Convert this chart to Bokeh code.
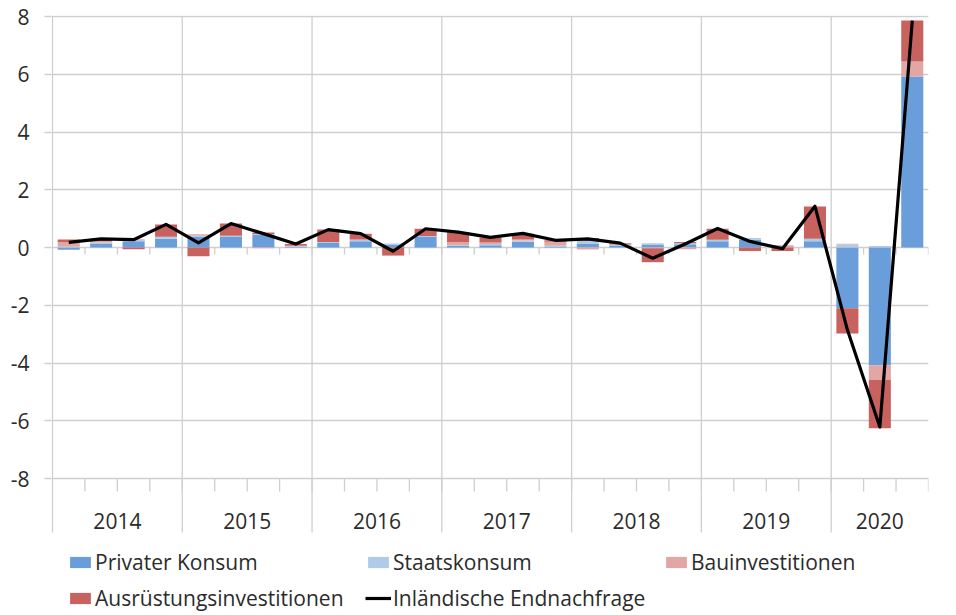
import numpy as np
from bokeh.plotting import figure
from bokeh.models import ColumnDataSource, FixedTicker, Legend, LegendItem, Range1d, Grid
from bokeh.core.properties import value
from bokeh.embed import file_html
from bokeh.resources import INLINE

# ---- data (quarterly contributions, percentage points) ----
years = ["2014", "2015", "2016", "2017", "2018", "2019", "2020"]
quarters_per_year = [4, 4, 4, 4, 4, 4, 3]

privater_konsum = [-0.08, 0.12, 0.22, 0.30, 0.38, 0.36, 0.45, 0.02,
                   0.16, 0.22, 0.10, 0.36, 0.05, 0.08, 0.20, 0.02,
                   0.14, 0.05, 0.10, 0.11, 0.22, 0.27, 0.00, 0.22,
                   -2.10, -4.08, 5.92]
staatskonsum = [0.03, 0.05, 0.04, 0.07, 0.03, 0.05, 0.02, 0.02,
                0.03, 0.04, 0.04, 0.04, 0.03, 0.04, 0.04, 0.04,
                0.09, 0.04, 0.05, 0.05, 0.05, 0.06, 0.02, 0.08,
                0.10, 0.05, 0.00]
bauinvestitionen = [0.15, 0.05, 0.03, 0.00, 0.05, 0.00, -0.03, 0.02,
                    0.00, 0.02, 0.00, 0.00, 0.10, 0.05, 0.04, 0.14,
                    -0.07, 0.02, -0.03, -0.06, 0.00, 0.00, 0.06, 0.00,
                    0.03, -0.50, 0.52]
ausruestungsinvestitionen = [0.10, 0.08, -0.06, 0.43, -0.30, 0.42, 0.05, 0.06,
                             0.43, 0.20, -0.28, 0.25, 0.35, 0.18, 0.20, 0.05,
                             0.10, 0.04, -0.48, 0.03, 0.38, -0.12, -0.12, 1.12,
                             -0.88, -1.68, 1.42]
endnachfrage = [0.18, 0.30, 0.27, 0.80, 0.16, 0.83, 0.48, 0.12,
                0.62, 0.48, -0.13, 0.65, 0.53, 0.35, 0.49, 0.25,
                0.30, 0.15, -0.37, 0.12, 0.66, 0.21, -0.04, 1.43,
                -2.85, -6.22, 7.86]

series_names = ["Privater Konsum", "Staatskonsum", "Bauinvestitionen", "Ausrüstungsinvestitionen"]
series_values = [privater_konsum, staatskonsum, bauinvestitionen, ausruestungsinvestitionen]
series_colors = ["#6A9EDA", "#AFCBE8", "#E2A6A4", "#C8625F"]
line_name = "Inländische Endnachfrage"
y_ticks = [-8, -6, -4, -2, 0, 2, 4, 6, 8]

# ---- derived positions ----
n = len(endnachfrage)
xc = np.arange(n) + 0.5
year_starts = np.concatenate([[0], np.cumsum(quarters_per_year)[:-1]])
year_centers = year_starts + np.array(quarters_per_year) / 2.0
quarter_bounds = np.arange(1, n + 1)

PX_PER_UNIT = 28.875
PX_PER_Q = 32.444
FRAME_TOP = 15
FRAME_BOTTOM = 614
y_end = 8 + 1 / PX_PER_UNIT
y_start = 8 - (FRAME_BOTTOM - 16) / PX_PER_UNIT
x_start = -1 / PX_PER_Q
GRID = "#CFCFCF"
FONT = "Open Sans"
TXT = "#2B2B2B"
FS = "21px"

p = figure(width=948, height=FRAME_BOTTOM, frame_width=877, frame_height=FRAME_BOTTOM - FRAME_TOP,
           x_range=Range1d(x_start, n), y_range=Range1d(y_start, y_end),
           output_backend="svg", toolbar_location=None,
           x_axis_location=None, min_border_left=51, min_border_right=20,
           min_border_top=FRAME_TOP, min_border_bottom=0)
p.outline_line_color = None
p.background_fill_color = "white"
p.xgrid.grid_line_color = None
p.ygrid.grid_line_color = None

# horizontal gridlines
p.add_layout(Grid(dimension=1, ticker=FixedTicker(ticks=y_ticks),
                  grid_line_color=GRID, grid_line_width=1.3))

# y axis
ax = p.yaxis[0]
ax.ticker = FixedTicker(ticks=y_ticks)
ax.axis_line_color = None
ax.major_tick_line_color = GRID
ax.major_tick_line_width = 1.3
ax.major_tick_out = 7
ax.major_tick_in = 0
ax.minor_tick_line_color = None
ax.major_label_standoff = 15
ax.major_label_text_font = FONT
ax.major_label_text_font_size = FS
ax.major_label_text_color = TXT
ax.major_label_overrides = {t: str(t) for t in y_ticks}

# year separators (from top to bottom of category label area)
sep_bottom = -8 - 54 / PX_PER_UNIT
p.segment(x0=year_starts, y0=[8] * len(year_starts), x1=year_starts,
          y1=[sep_bottom] * len(year_starts), line_color=GRID, line_width=1.3)
# quarter ticks below the category axis (at 0) and at the bottom (-8)
p.segment(x0=quarter_bounds, y0=0, x1=quarter_bounds, y1=-7 / PX_PER_UNIT,
          line_color=GRID, line_width=1.3)
p.segment(x0=quarter_bounds, y0=-8, x1=quarter_bounds, y1=-8 - 13 / PX_PER_UNIT,
          line_color=GRID, line_width=1.3)

# year labels
p.text(x=year_centers, y=[-8 - 42 / PX_PER_UNIT] * len(years), text=years,
       text_align="center", text_baseline="middle",
       text_font=value(FONT), text_font_size=FS, text_color=TXT)

# stacked bars (positives up, negatives down)
pos = np.zeros(n)
neg = np.zeros(n)
items = []
for name, vals, col in zip(series_names, series_values, series_colors):
    v = np.array(vals, dtype=float)
    bottom = np.where(v >= 0, pos, neg)
    top = bottom + v
    pos = np.where(v >= 0, top, pos)
    neg = np.where(v < 0, top, neg)
    src = ColumnDataSource(dict(x=xc, bottom=bottom, top=top))
    r = p.vbar(x="x", width=0.68, bottom="bottom", top="top", source=src,
               fill_color=col, line_color=None)
    items.append(LegendItem(label=name, renderers=[r]))

lr = p.line(xc, endnachfrage, line_color="black", line_width=3.2, line_join="round")
items.append(LegendItem(label=line_name, renderers=[lr]))

legend = Legend(items=items, location=(16, 2), orientation="horizontal", ncols=3,
                padding=0, margin=0, spacing=8, label_standoff=2,
                label_width=262, glyph_width=26, glyph_height=14,
                label_text_font=FONT, label_text_font_size=FS,
                label_text_color=TXT, border_line_color=None,
                background_fill_alpha=0)
p.add_layout(legend)

open("out.html", "w").write(file_html(p, INLINE))
